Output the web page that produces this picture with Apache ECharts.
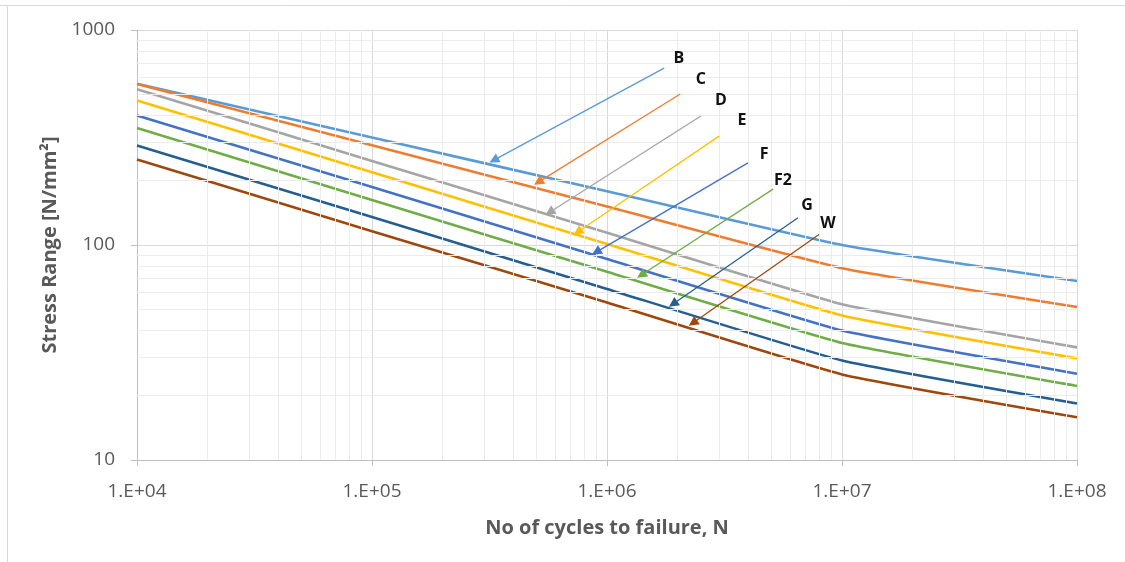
<!DOCTYPE html>
<html>
<head>
<meta charset="utf-8">
<script src="https://cdn.jsdelivr.net/npm/echarts@6/dist/echarts.min.js"></script>
<style>
  html, body { margin: 0; padding: 0; background: #fff; }
  #chart { width: 1125px; height: 562px; }
</style>
</head>
<body>
<div id="chart"></div>
<script>
// cycles to failure (x) and stress range per detail class (y)
const cycles = [1e4, 1e5, 1e6, 1e7, 1e8]
const classNames = ['B', 'C', 'D', 'E', 'F', 'F2', 'G', 'W']
const valuesB = [562, 316, 178, 100, 68]
const valuesC = [561, 291, 151, 78, 51.5]
const valuesD = [530, 246, 114, 53, 33.4]
const valuesE = [470, 218, 101, 47, 29.7]
const valuesF = [400, 186, 86, 40, 25.2]
const valuesF2 = [350, 162, 75, 35, 22.1]
const valuesG = [290, 135, 62.5, 29, 18.3]
const valuesW = [250, 116, 54, 25, 15.8]
const colors = ['#5B9BD5', '#ED7D31', '#A5A5A5', '#FFC000', '#4472C4', '#70AD47', '#255E91', '#9E480E']

// label arrows: from (label end) -> to (arrow head), in data units
const arrowFrom = [[1.75e6, 665], [2.05e6, 504], [2.51e6, 398], [3.0e6, 321], [3.98e6, 241], [5.09e6, 182], [6.5e6, 134], [7.98e6, 112]]
const arrowTo = [[3.3e5, 248], [5.1e5, 196], [5.7e5, 142], [7.5e5, 115], [9.0e5, 92.7], [1.4e6, 72.5], [1.91e6, 53.2], [2.32e6, 43.4]]
// where each class letter sits
const labelAt = [[2.02e6, 741], [2.51e6, 592], [3.05e6, 468], [3.75e6, 381], [4.66e6, 265], [5.61e6, 199], [7.1e6, 152], [8.71e6, 126]]

const xTicks = ['1.E+04', '1.E+05', '1.E+06', '1.E+07', '1.E+08']

const allValues = [valuesB, valuesC, valuesD, valuesE, valuesF, valuesF2, valuesG, valuesW]

const chart = echarts.init(document.getElementById('chart'))

const labelFont = '"Open Sans", sans-serif'

const minorX = []
for (let e = 4; e < 8; e++) {
  for (let k = 2; k <= 9; k++) minorX.push({ xAxis: k * Math.pow(10, e) })
}
const minorY = []
for (let e = 1; e < 3; e++) {
  for (let k = 2; k <= 9; k++) minorY.push({ yAxis: k * Math.pow(10, e) })
}

const series = allValues.map((vals, i) => ({
  name: classNames[i],
  type: 'line',
  data: cycles.map((c, j) => [c, vals[j]]),
  smooth: 0.12,
  showSymbol: false,
  symbol: 'none',
  z: 3,
  lineStyle: { color: colors[i], width: 2.6 },
  markLine: {
    silent: true,
    symbol: ['none', 'triangle'],
    symbolSize: 10,
    animation: false,
    lineStyle: { color: colors[i], width: 1.3, type: 'solid' },
    itemStyle: { color: colors[i] },
    label: { show: false },
    data: [[{ coord: arrowFrom[i] }, { coord: arrowTo[i] }]]
  },
  markPoint: {
    silent: true,
    animation: false,
    symbol: 'circle',
    symbolSize: 0,
    label: {
      show: true,
      position: 'inside',
      formatter: classNames[i],
      color: '#111',
      fontFamily: labelFont,
      fontWeight: 'bold',
      fontSize: 16
    },
    data: [{ coord: labelAt[i] }]
  }
}))

// light minor gridlines
series.unshift({
  type: 'line',
  data: [],
  z: 1,
  markLine: {
    silent: true,
    symbol: 'none',
    animation: false,
    label: { show: false },
    lineStyle: { color: '#ececec', width: 1, type: 'solid' },
    data: minorX.concat(minorY)
  }
})

chart.setOption({
  animation: false,
  color: colors,
  graphic: [
    { type: 'line', shape: { x1: 0, y1: 5.5, x2: 1125, y2: 5.5 }, style: { stroke: '#d9d9d9', lineWidth: 1 } },
    { type: 'line', shape: { x1: 7.5, y1: 5, x2: 7.5, y2: 562 }, style: { stroke: '#d9d9d9', lineWidth: 1 } }
  ],
  grid: { left: 137, right: 48, top: 30, bottom: 102 },
  xAxis: {
    type: 'log',
    logBase: 10,
    min: 1e4,
    max: 1e8,
    name: 'No of cycles to failure, N',
    nameLocation: 'middle',
    nameGap: 58,
    nameTextStyle: { fontFamily: labelFont, fontWeight: 'bold', fontSize: 20, color: '#595959' },
    axisLine: { show: true, lineStyle: { color: '#bfbfbf' } },
    axisTick: { show: true, length: 6, lineStyle: { color: '#bfbfbf' } },
    axisLabel: {
      fontFamily: labelFont, fontSize: 19, color: '#595959', margin: 22,
      formatter: v => xTicks[Math.round(Math.log10(v)) - 4]
    },
    splitLine: { show: true, lineStyle: { color: '#d9d9d9' } }
  },
  yAxis: {
    type: 'log',
    logBase: 10,
    min: 10,
    max: 1000,
    name: 'Stress Range [N/mm²]',
    nameLocation: 'middle',
    nameGap: 76,
    nameTextStyle: { fontFamily: labelFont, fontWeight: 'bold', fontSize: 20, color: '#595959' },
    axisLine: { show: true, lineStyle: { color: '#bfbfbf' } },
    axisTick: { show: true, length: 6, lineStyle: { color: '#bfbfbf' } },
    axisLabel: {
      fontFamily: labelFont, fontSize: 19, color: '#595959', margin: 22,
      formatter: v => String(Math.round(v))
    },
    splitLine: { show: true, lineStyle: { color: '#d9d9d9' } }
  },
  series: series
})
</script>
</body>
</html>
